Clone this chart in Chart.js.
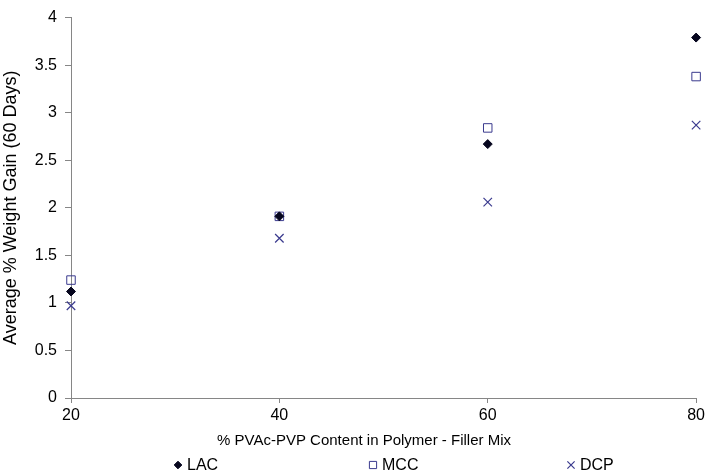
<!DOCTYPE html>
<html>
<head>
<meta charset="utf-8">
<title>Average % Weight Gain</title>
<script src="https://cdn.jsdelivr.net/npm/chart.js@4.4.1/dist/chart.umd.min.js"></script>
<style>
    html, body { margin: 0; padding: 0; background: #fff; }
    #wrap { width: 708px; height: 476px; }
</style>
</head>
<body>
<div id="wrap"><canvas id="myChart" width="708" height="476"></canvas></div>
<script>
// données
var contenu = [20, 40, 60, 80];
var lac = [1.12, 1.91, 2.67, 3.79];
var mcc = [1.24, 1.91, 2.84, 3.38];
var dcp = [0.97, 1.68, 2.06, 2.87];
var ticksY = [0, 0.5, 1, 1.5, 2, 2.5, 3, 3.5, 4];

var gris = '#868686';
var marine = '#3a3a8e';
var noir = '#06061e';
var police = "'Liberation Sans', Arial, sans-serif";

Chart.defaults.font.family = police;
Chart.defaults.font.size = 16;
Chart.defaults.color = '#000';

function points(valeurs) {
    return contenu.map(function (x, i) {
        return { x: x, y: valeurs[i] };
    });
}

// titre de l'axe X et légende dessinés à la main (décalés / très espacés sur l'original)
var legendePlugin = {
    id: 'legende',
    afterDraw: function (chart) {
        var ctx = chart.ctx;
        ctx.save();
        ctx.fillStyle = '#000';
        ctx.font = '15px ' + police;
        ctx.textBaseline = 'middle';
        ctx.textAlign = 'center';
        ctx.fillText('% PVAc-PVP Content in Polymer - Filler Mix', 364, 441);
        ctx.restore();

        var y = 465;
        var positions = [178, 373, 571];
        chart.data.datasets.forEach(function (ds, i) {
            ctx.save();
            ctx.fillStyle = ds.pointBackgroundColor;
            ctx.strokeStyle = ds.pointBorderColor;
            ctx.lineWidth = ds.pointBorderWidth;
            Chart.helpers.drawPoint(ctx, {
                pointStyle: ds.pointStyle,
                radius: ds.pointRadius * 0.85,
                borderWidth: ds.pointBorderWidth,
                rotation: 0
            }, positions[i], y);
            ctx.fillStyle = '#000';
            ctx.font = '16px ' + police;
            ctx.textBaseline = 'middle';
            ctx.textAlign = 'left';
            ctx.fillText(ds.label, positions[i] + 9, y + 1);
            ctx.restore();
        });
    }
};

var data = {
    datasets: [{
        label: 'LAC',
        data: points(lac),
        pointStyle: 'rectRot',
        pointRadius: 4.5,
        pointBackgroundColor: noir,
        pointBorderColor: noir,
        pointBorderWidth: 1,
        showLine: false,
        clip: false
    }, {
        label: 'MCC',
        data: points(mcc),
        pointStyle: 'rect',
        pointRadius: 6,
        pointBackgroundColor: 'rgba(255,255,255,0)',
        pointBorderColor: marine,
        pointBorderWidth: 1,
        showLine: false,
        clip: false
    }, {
        label: 'DCP',
        data: points(dcp),
        pointStyle: 'crossRot',
        pointRadius: 6,
        pointBackgroundColor: marine,
        pointBorderColor: marine,
        pointBorderWidth: 1.2,
        showLine: false,
        clip: false
    }]
};

var options = {
    responsive: false,
    animation: false,
    layout: {
        padding: { left: 0, right: 11, top: 8, bottom: 26 }
    },
    scales: {
        x: {
            type: 'linear',
            min: 20,
            max: 80,
            afterBuildTicks: function (scale) {
                scale.ticks = contenu.map(function (v) { return { value: v }; });
            },
            afterFit: function (scale) {
                scale.height = 52;
            },
            grid: { drawOnChartArea: false, color: gris, tickLength: 5 },
            border: { color: gris },
            ticks: { padding: 3, maxRotation: 0 },
            title: { display: false }
        },
        y: {
            min: 0,
            max: 4,
            afterBuildTicks: function (scale) {
                scale.ticks = ticksY.map(function (v) { return { value: v }; });
            },
            afterFit: function (scale) {
                scale.width = 71;
            },
            grid: { drawOnChartArea: false, color: gris, tickLength: 6 },
            border: { color: gris },
            ticks: {
                padding: 8,
                callback: function (v) { return String(v); }
            },
            title: {
                display: true,
                text: 'Average % Weight Gain (60 Days)',
                font: { size: 18 },
                padding: { top: 0, bottom: 0 }
            }
        }
    },
    plugins: {
        legend: { display: false },
        tooltip: { enabled: false }
    }
};

var ctx = document.getElementById('myChart').getContext('2d');
var myChart = new Chart(ctx, {
    type: 'scatter',
    data: data,
    options: options,
    plugins: [legendePlugin]
});
</script>
</body>
</html>
